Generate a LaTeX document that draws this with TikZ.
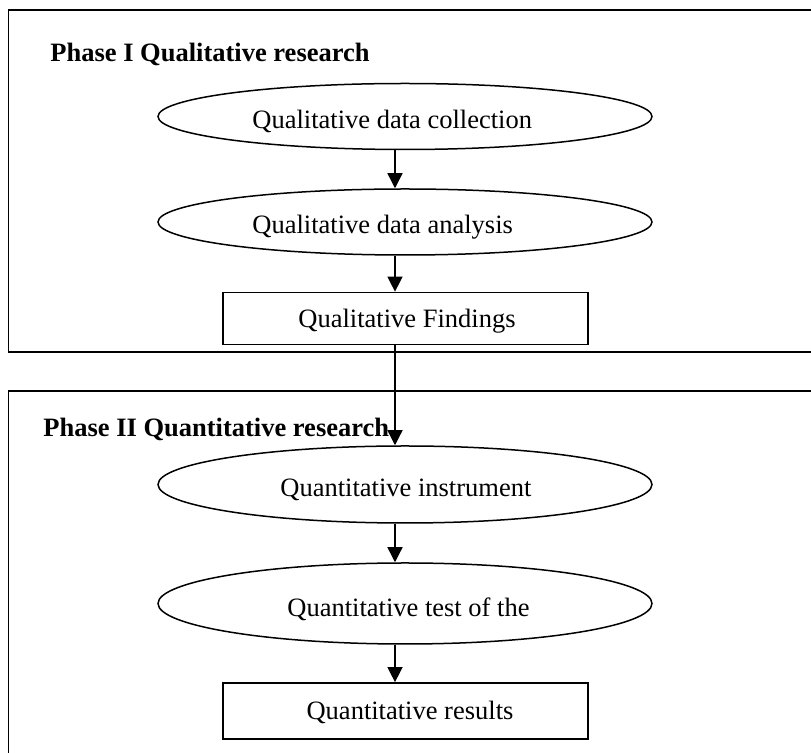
\documentclass[tikz,border=0pt]{standalone}
\usepackage{fontspec}
\setmainfont{Liberation Serif}
\usetikzlibrary{shapes.geometric,arrows.meta}
\begin{document}
\begin{tikzpicture}[x=0.5pt,y=-0.5pt,
  font=\fontsize{13.25}{16}\selectfont,
  frame/.style={line width=0.85pt},
  oval/.style={draw,ellipse,line width=0.75pt,minimum width=247pt,inner sep=0pt},
  stepbox/.style={draw,rectangle,line width=0.85pt,minimum width=182.5pt,inner sep=0pt},
  txt/.style={anchor=base west,inner sep=0pt},
  ctxt/.style={anchor=base,inner sep=0pt},
  flow/.style={line width=0.7pt,-{Triangle[length=7.5pt,width=7.5pt]}},
  phase/.style={anchor=base west,inner sep=0pt,font=\fontsize{13.25}{16}\selectfont\bfseries}]
\clip (0,0) rectangle (811,753);

% phase frames, running off the right and bottom edges
\draw[frame] (8.5,10) rectangle (830,352);
\draw[frame] (8.5,391) rectangle (830,790);

% Phase I
\node[phase] (p1) at (50,62) {Phase I Qualitative research};
\node[oval,minimum height=33pt] (e1) at (405,116.5) {};
\node[txt] (t1) at (252,129) {Qualitative data collection};
\node[oval,minimum height=33pt] (e2) at (405,222) {};
\node[txt] (t2) at (252,234) {Qualitative data analysis};
\node[stepbox,minimum height=26pt] (f1) at (405.5,318.5) {};
\node[ctxt] (t3) at (407,328) {Qualitative Findings};

% Phase II
\node[oval,minimum height=38.5pt] (e3) at (405,484.5) {};
\node[txt] (t4) at (280,497) {Quantitative instrument};
\node[oval,minimum height=40.5pt] (e4) at (405,603.5) {};
\node[txt] (t5) at (287,617) {Quantitative test of the};
\node[stepbox,minimum height=28pt] (r1) at (405.5,711) {};
\node[ctxt] (t6) at (410,720) {Quantitative results};

% connectors, all on one vertical slightly left of the centre line
\draw[flow] ([xshift=-5pt]e1.south) -- ([xshift=-5pt]e2.north);
\draw[flow] ([xshift=-5pt]e2.south) -- ([xshift=-5.25pt]f1.north);
\draw[flow] ([xshift=-5.25pt]f1.south) -- ([xshift=-5pt]e3.north);
\draw[flow] ([xshift=-5pt]e3.south) -- ([xshift=-5pt]e4.north);
\draw[flow] ([xshift=-5pt]e4.south) -- ([xshift=-5.25pt]r1.north);

\node[phase] (p2) at (43,437) {Phase II Quantitative research};
\end{tikzpicture}
\end{document}
